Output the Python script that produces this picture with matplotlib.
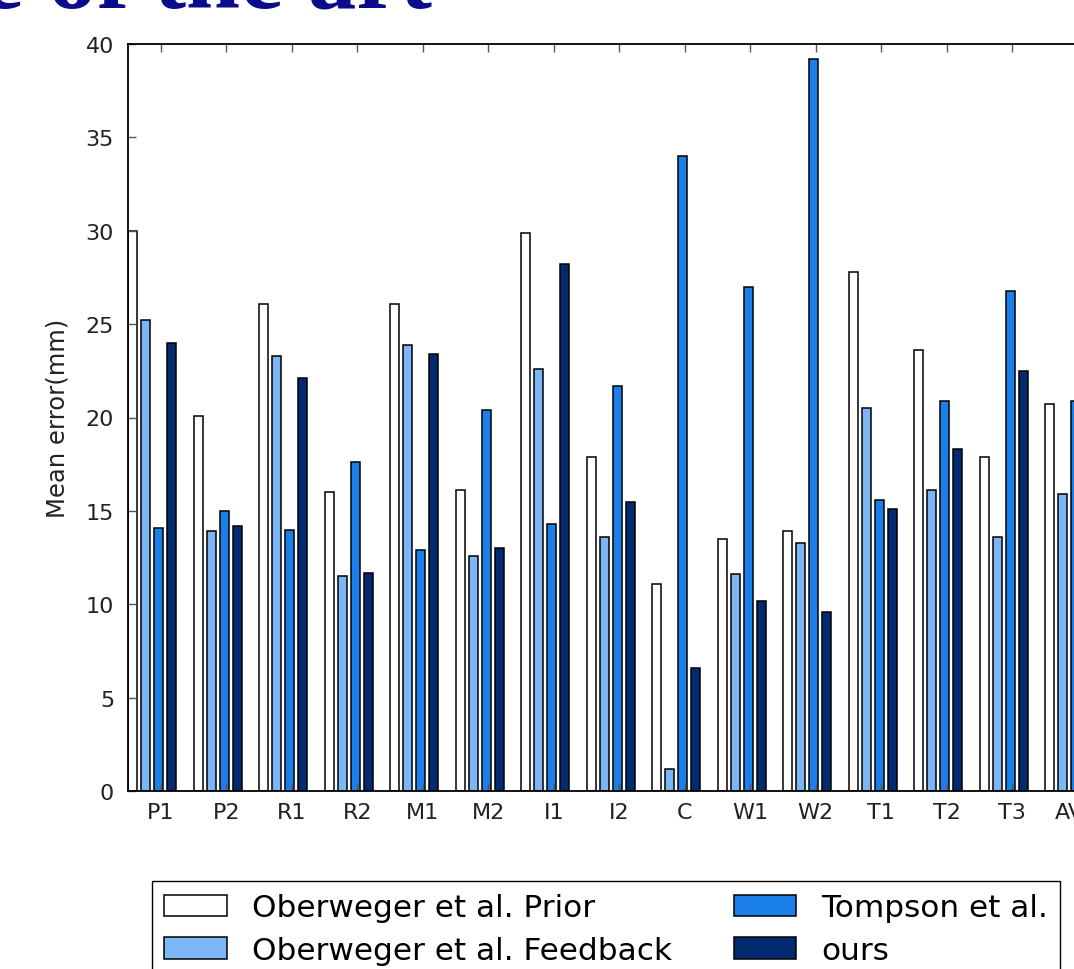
import numpy as np
import matplotlib
matplotlib.use('Agg')
import matplotlib.pyplot as plt

# datos
joints = ['P1', 'P2', 'R1', 'R2', 'M1', 'M2', 'I1', 'I2', 'C', 'W1', 'W2',
          'T1', 'T2', 'T3', 'AVG']
prior = [30.0, 20.1, 26.1, 16.0, 26.1, 16.1, 29.9, 17.9, 11.1, 13.5, 13.9,
         27.8, 23.6, 17.9, 20.7]
feedback = [25.2, 13.9, 23.3, 11.5, 23.9, 12.6, 22.6, 13.6, 1.2, 11.6, 13.3,
            20.5, 16.1, 13.6, 15.9]
tompson = [14.1, 15.0, 14.0, 17.6, 12.9, 20.4, 14.3, 21.7, 34.0, 27.0, 39.2,
           15.6, 20.9, 26.8, 20.9]
ours = [24.0, 14.2, 22.1, 11.7, 23.4, 13.0, 28.2, 15.5, 6.6, 10.2, 9.6,
        15.1, 18.3, 22.5, 16.7]
labels = ['Oberweger et al. Prior', 'Oberweger et al. Feedback',
          'Tompson et al.', 'ours']
colores = ['white', '#7db6f5', '#1a7fe8', '#022a6e']

W, H = 1074, 970
fig = plt.figure(figsize=(W / 100, H / 100), dpi=100)
fig.patch.set_facecolor('white')

# titulo de la diapositiva (recortado)
fig.text(432 / W, (H - 9) / H, 'State of the art', ha='right', va='baseline',
         fontsize=70, fontweight='bold', family='Liberation Serif',
         color='#0b0b8c')

# ejes (se salen por la derecha, como en la captura)
px = 65.5
ax = fig.add_axes([128 / W, (H - 792) / H, 15 * px / W, (792 - 45) / H])

ind = np.arange(len(joints))
width = 0.14
series = [prior, feedback, tompson, ours]
for k, vals in enumerate(series):
    ax.bar(ind + 0.2 * k, vals, width, align='edge', color=colores[k],
           edgecolor='black', linewidth=1.1, label=labels[k])

ax.set_xlim(0, len(joints))
ax.set_ylim(0, 40)
ax.set_xticks(ind + 0.5)
ax.set_xticklabels(joints)
ax.set_yticks(np.arange(0, 41, 5))
ax.tick_params(direction='in', length=6, width=1, color='#555555',
               top=True, right=True, labelsize=16, labelcolor='#222222')
ax.tick_params(axis='y', pad=10)
ax.tick_params(axis='x', pad=8)
for s in ax.spines.values():
    s.set_linewidth(1.3)
ax.set_ylabel('Mean error(mm)', fontsize=17.5, labelpad=12, color='#222222')

fig.legend(loc='upper left', bbox_to_anchor=(152 / W, (H - 882) / H),
           ncol=2, fontsize=22.4, fancybox=False, edgecolor='black',
           framealpha=1, borderaxespad=0, handlelength=2.0,
           columnspacing=2.0, labelspacing=0.44)

plt.savefig('out.png', dpi=100)
plt.close()
